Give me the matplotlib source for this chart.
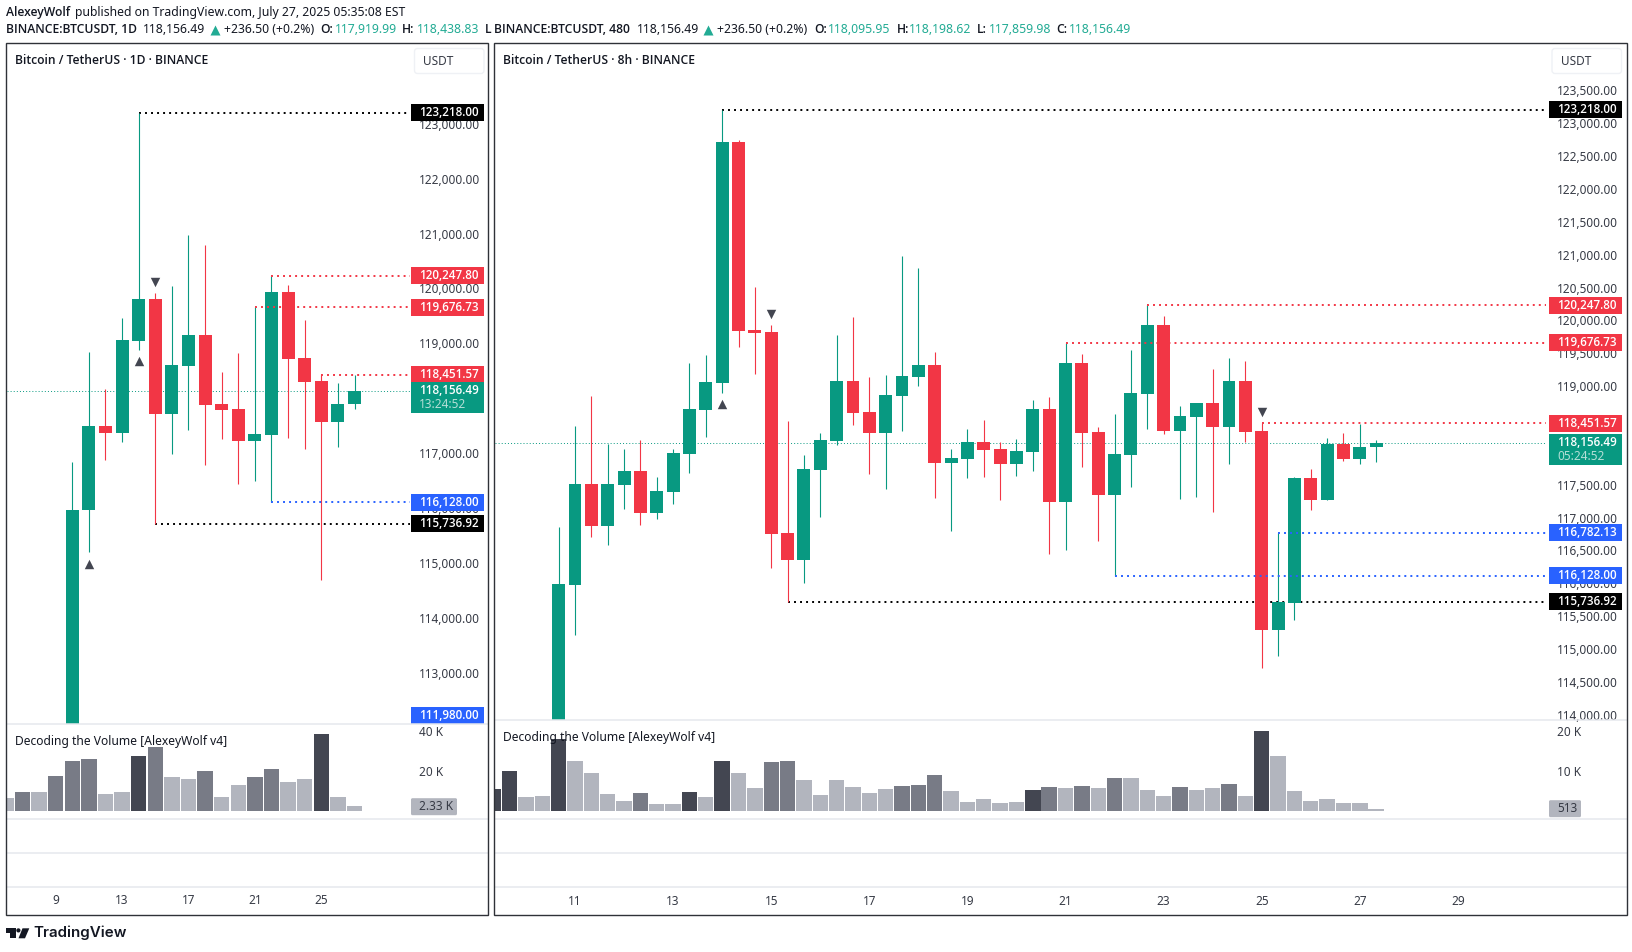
"""BTCUSDT 1D / 8h side-by-side TradingView snapshot, redrawn in matplotlib."""
import matplotlib; matplotlib.use("Agg"); import matplotlib.pyplot as plt
from matplotlib.patches import Rectangle, FancyBboxPatch, Polygon, Circle
from matplotlib.transforms import ScaledTranslation

plt.rcParams["font.family"] = ["Noto Sans", "DejaVu Sans"]
W, H = 1633, 952

GREEN, RED, BLUE, BLACK = "#089981", "#F23645", "#2962FF", "#000000"
INK, TICK, SEP = "#131722", "#363a45", "#e6e8ee"
VOL_COL = {"d": "#434651", "m": "#787B86", "l": "#B2B5BE"}
SEMI = dict(family="Open Sans", weight=600)   # Noto Sans here is one variable file, no real bold

# ---------------- 1D candles ----------------
d1_days  = list(range(10, 28))
d1_open  = [111232, 115986, 117515, 117393, 119068, 119826, 117733, 118607, 119171, 117915, 117824, 117242, 117351, 119954, 118752, 118334, 117588, 117919.99]
d1_high  = [116860, 118862, 118188, 119474, 123218, 119930, 120063, 120991, 120809, 118498, 118843, 119676.73, 120247.80, 120081, 119444, 118451.57, 118297, 118438.83]
d1_low   = [110800, 115227, 116896, 117230, 118898, 115736.92, 117005, 117442, 116805, 117284, 116459, 116514, 116128, 117296, 117096, 114718, 117133, 117824]
d1_close = [115986, 117515, 117393, 119080, 119826, 117733, 118625, 119171, 117897, 117806, 117242, 117369, 119954, 118734, 118316, 117588, 117915, 118156.49]

# 1D volume (K)
d1_vol_days = list(range(6, 28))
d1_vol      = [6.3, 9.3, 9.3, 17.3, 24.8, 25.8, 8.3, 9.3, 27.3, 31.8, 16.8, 15.8, 19.8, 6.8, 12.8, 16.8, 20.8, 14.3, 15.8, 38.3, 6.8, 2.33]
d1_vol_tone = list("lmlmmmlldmllmllmmlldll")

# ---------------- 8h candles (bar 0 = 11 Jul 00:00) ----------------
h8_idx   = list(range(-1, 50))
h8_open  = [113600, 115990, 117527, 116888, 117512, 117725, 117086, 117405, 117984, 118653, 119064, 122731, 119870, 119840, 116782, 116371, 117740, 118181,
            119094, 118623, 118303, 118866, 119155, 119338, 117847, 117907, 118166, 118060, 117831, 118014, 118668, 117253, 119368, 118318, 117360, 117968,
            118897, 119947, 118334, 118547, 118760, 118395, 119094, 118334, 115306, 115716, 117618, 117284, 118136, 117907, 118095.95]
h8_high  = [116873, 118410, 118866, 118136, 118060, 118197, 117634, 118060, 119368, 119490, 123218, 122762, 120525, 119947, 118486, 117968, 118303, 119794,
            120068, 119155, 119186, 120996, 120814, 119536, 118060, 118364, 118501, 118166, 118212, 118805, 118851, 119676.73, 119505, 118394, 118592, 119566,
            120247.80, 120083, 118714, 118760, 119277, 119444, 119399, 118451.57, 116782.13, 117634, 117755, 118227, 118303, 118440, 118198.62]
h8_low   = [113400, 115230, 116721, 116599, 117147, 116903, 116995, 117223, 117695, 118242, 118912, 119612, 119201, 116249, 115736.92, 116021, 117025, 118121,
            118425, 117679, 117451, 118334, 119018, 117314, 116812, 117618, 117634, 117284, 117649, 117725, 116462, 116523, 117786, 116660, 116128, 117482,
            118364, 118288, 117299, 117329, 117101, 117832, 118166, 114727, 114910, 115458, 117132, 117284, 117877, 117832, 117859.98]
h8_close = [116006, 117527, 116888, 117527, 117725, 117086, 117421, 117999, 118668, 119079, 122731, 119855, 119825, 116766, 116371, 117755, 118197, 119094,
            118607, 118303, 118881, 119170, 119338, 117847, 117923, 118166, 118045, 117831, 118029, 118668, 117253, 119368, 118303, 117360, 117984, 118912,
            119947, 118334, 118562, 118760, 118395, 119094, 118318, 115306, 115732, 117618, 117284, 118136, 117907, 118090, 118156.49]

# 8h volume (K)
h8_vol_idx  = list(range(-5, 50))
h8_vol      = [5.5, 10, 3.5, 3.75, 18, 12.5, 9.5, 4.25, 2.5, 4.5, 1.75, 1.75, 4.75, 3.5, 12.5, 9.5, 5.75, 12.25, 12.5, 7.75, 4, 7.75, 6, 4.5, 5.5, 6.25, 6.5, 9, 5,
               2.25, 3, 2, 2.25, 5.25, 6, 5.75, 6.25, 5.75, 8.25, 8.25, 5.25, 3.75, 6, 5.25, 5.75, 6.75, 3.75, 20, 13.75, 5, 2.5, 3, 2, 2, 0.513]
h8_vol_tone = list("ddlld" "llllm" "lldld" "llmml" "lllll" "mmmll" "llldm" "lmlml" "llmll" "mldll" "lllll")

# ---------------- price axis / levels ----------------
# 118,000 sits fully behind the last-price tag on both scales, so it is left out
d1_ticks = [113000, 114000, 115000, 116000, 117000, 119000, 120000, 121000, 122000, 123000]
h8_ticks = [114000, 114500, 115000, 115500, 116000, 116500, 117000, 117500, 118500, 119000, 119500, 120000, 120500, 121000, 121500, 122000, 122500, 123000, 123500]
d1_levels = [(123218.00, BLACK, 14), (120247.80, RED, 22), (119676.73, RED, 21), (118451.57, RED, 25), (116128.00, BLUE, 22), (115736.92, BLACK, 15)]
h8_levels = [(123218.00, BLACK, 9), (120247.80, RED, 35), (119676.73, RED, 30), (118451.57, RED, 42), (116782.13, BLUE, 43), (116128.00, BLUE, 33), (115736.92, BLACK, 13)]
last_price = 118156.49
d1_tri = [(11, 115004, "^"), (14, 118694, "^"), (15, 120138, "v")]
h8_tri = [(9, 118750, "^"), (12, 120114, "v"), (42, 118628, "v")]
d1_date_pos, d1_date_lab = [9, 13, 17, 21, 25], ["9", "13", "17", "21", "25"]
h8_date_pos, h8_date_lab = [0, 6, 12, 18, 24, 30, 36, 42, 48, 54], ["11", "13", "15", "17", "19", "21", "23", "25", "27", "29"]


def add_ax(x0, y0, x1, y1):
    ax = fig.add_axes([x0/W, 1-y1/H, (x1-x0)/W, (y1-y0)/H])
    ax.patch.set_alpha(0)
    return ax

def candles(ax, x, o, h, l, c, width):
    for xi, oi, hi, li, ci in zip(x, o, h, l, c):
        col = GREEN if ci >= oi else RED
        ax.vlines(xi, li, hi, color=col, lw=0.8, zorder=3)
        ax.bar(xi, abs(ci-oi), bottom=min(oi, ci), width=width, color=col, lw=0, zorder=3)

def tag(ax, price, text, color, sub=None):
    """price label on the scale; x in axes fraction from the panel's label box"""
    ymin, ymax = ax.get_ylim()
    px = (ymax-ymin)/ax.bbox.height
    hgt = 17*px
    yc = max(price, ymin+hgt/2)
    extra = 14*px if sub else 0
    tr = ax.get_yaxis_transform()
    ax.add_patch(FancyBboxPatch((ax.tag_x0, yc-hgt/2-extra), ax.tag_w, hgt+extra, boxstyle="square,pad=0", fc=color, ec="none", transform=tr, zorder=6, clip_on=False))
    ax.text(ax.tag_xt, yc, text, color="white", fontsize=8.4, ha="left", va="center", transform=tr, zorder=7, clip_on=False, **SEMI)
    if sub:
        ax.text(ax.tag_xt, yc-14*px, sub, color="#b5dfd7", fontsize=8.5, ha="left", va="center", transform=tr, zorder=7, clip_on=False)

def price_pane(ax, x, o, h, l, c, width, xlim, ylim, ticks, levels, tri, line_end, box, text_x, pad, sub):
    x0, x1 = ax.get_position().x0*W, ax.get_position().x1*W
    frac = lambda p: (p-x0)/(x1-x0)
    ax.set_xlim(*xlim); ax.set_ylim(*ylim)
    ax.tag_x0, ax.tag_w, ax.tag_xt = frac(box[0]), frac(box[1])-frac(box[0]), frac(text_x)
    candles(ax, x, o, h, l, c, width)
    # black levels run under the candles, coloured ones over them
    xend = xlim[0]+(xlim[1]-xlim[0])*frac(line_end)
    for p, col, start in levels:
        ax.hlines(p, start, xend, color=col, lw=1.4, linestyles=(0, (1, 2.1)), zorder=2 if col == BLACK else 4)
    ax.hlines(last_price, xlim[0], xend, color=GREEN, lw=0.7, linestyles=(0, (1, 2.2)), zorder=2)
    ax.scatter([t[0] for t in tri if t[2] == "^"], [t[1] for t in tri if t[2] == "^"], marker="^", s=46, color="#434651", lw=0, zorder=5)
    ax.scatter([t[0] for t in tri if t[2] == "v"], [t[1] for t in tri if t[2] == "v"], marker="v", s=46, color="#434651", lw=0, zorder=5)
    ax.set_xticks([])
    ax.yaxis.tick_right()
    ax.set_yticks(ticks, [f"{t:,.2f}" for t in ticks])
    ax.tick_params(axis="y", length=0, pad=-pad, labelsize=8.5, labelcolor=TICK)
    nudge = ScaledTranslation(0, 1/100, fig.dpi_scale_trans)   # 1 px up
    for t in ax.get_yticklabels():
        t.set_ha("left"); t.set_transform(t.get_transform() + nudge)
    for s in ax.spines.values(): s.set_visible(False)
    for p, col, _ in levels:
        tag(ax, p, f"{p:,.2f}", col)
    tag(ax, last_price, f"{last_price:,.2f}", GREEN, sub)

def vol_pane(ax, x, v, tone, width, xlim, ylim, ticks, labels, pad):
    ax.set_xlim(*xlim); ax.set_ylim(*ylim)
    ax.bar(x, v, width=width, color=[VOL_COL[t] for t in tone], lw=0, zorder=3)
    ax.set_xticks([])
    ax.yaxis.tick_right()
    ax.set_yticks(ticks, labels)
    ax.tick_params(axis="y", length=0, pad=-pad, labelsize=8.5, labelcolor=TICK)
    for t in ax.get_yticklabels(): t.set_ha("left")
    for k in ("left", "right"): ax.spines[k].set_visible(False)
    for k in ("top", "bottom"): ax.spines[k].set_color(SEP); ax.spines[k].set_linewidth(1.1)

def time_pane(ax, xlim, pos, labs):
    ax.set_xlim(*xlim); ax.set_ylim(0, 2)
    ax.axhline(1, color=SEP, lw=1.1)
    ax.set_yticks([])
    ax.set_xticks(pos, labs)
    ax.tick_params(axis="x", length=0, pad=5.2, labelsize=8.5, labelcolor=TICK)
    for k in ("left", "right", "top"): ax.spines[k].set_visible(False)
    ax.spines["bottom"].set_color(SEP); ax.spines["bottom"].set_linewidth(1.1)


fig = plt.figure(figsize=(W/100, H/100), dpi=100, facecolor="white")

# ================= left panel: 1D =================
xlim_l = (6.07, 35.04)
ax = add_ax(7, 44, 488, 724)
price_pane(ax, d1_days, d1_open, d1_high, d1_low, d1_close, 0.78, xlim_l, (112091, 124468), d1_ticks, d1_levels, d1_tri, 410, (411, 484), 419, 49.5, "13:24:52")
tag(ax, 111980.00, "111,980.00", BLUE)
av = add_ax(7, 724, 488, 819)
vol_pane(av, d1_vol_days, d1_vol, d1_vol_tone, 0.93, xlim_l, (-4.15, 43.35), [20, 40], ["20 K", "40 K"], 49.5)
at = add_ax(7, 819, 488, 887)
time_pane(at, xlim_l, d1_date_pos, d1_date_lab)

# ================= right panel: 8h =================
xlim_r = (-4.893, 64.34)
bx = add_ax(495, 44, 1627, 720.3)
price_pane(bx, h8_idx, h8_open, h8_high, h8_low, h8_close, 0.79, xlim_r, (113931, 124222), h8_ticks, h8_levels, h8_tri, 1546, (1549, 1622), 1557, 50.2, "05:24:52")
bv = add_ax(495, 720.3, 1627, 819.3)
vol_pane(bv, h8_vol_idx, h8_vol, h8_vol_tone, 0.94, xlim_r, (-2.08, 22.7), [10, 20], ["10 K", "20 K"], 50.2)
bt = add_ax(495, 819.3, 1627, 887.3)
time_pane(bt, xlim_r, h8_date_pos, h8_date_lab)

# ================= overlay in pixel coords: frames, headers, logo =================
ov = fig.add_axes([0, 0, 1, 1], zorder=20)
ov.set_xlim(0, W); ov.set_ylim(H, 0); ov.axis("off"); ov.patch.set_alpha(0)

for x0, x1 in ((6.5, 488.5), (494.5, 1626.8)):
    ov.add_patch(Rectangle((x0, 43.3), x1-x0, 871.7, fc="none", ec="#2f3238", lw=1.0))

TEAL = "#22ab94"
hdr_semi = [(6.3, 29.3, "BINANCE:BTCUSDT, 1D"), (320, 29.3, "O:"), (402.3, 29.3, "H:"), (485, 29.3, "L"),
            (494.3, 29.3, "BINANCE:BTCUSDT, 480"), (814, 29.3, "O:"), (896.7, 29.3, "H:"), (977.3, 29.3, "L:"), (1056, 29.3, "C:"),
            (6.3, 12.7, "AlexeyWolf")]
hdr_reg = [(143.3, 29.3, "118,156.49", INK), (224, 29.3, "+236.50 (+0.2%)", INK), (335, 29.3, "117,919.99", TEAL), (416.7, 29.3, "118,438.83", TEAL),
           (637.3, 29.3, "118,156.49", INK), (717.3, 29.3, "+236.50 (+0.2%)", INK), (828.3, 29.3, "118,095.95", TEAL), (909.3, 29.3, "118,198.62", TEAL),
           (988.7, 29.3, "117,859.98", TEAL), (1068.7, 29.3, "118,156.49", TEAL),
           (75, 12.7, "published on TradingView.com, July 27, 2025 05:35:08 EST", INK)]
for x, y, s in hdr_semi:
    ov.text(x, y, s, color=INK, fontsize=8.7, ha="left", va="center", **SEMI)
for x, y, s, col in hdr_reg:
    ov.text(x, y, s, color=col, fontsize=8.8, ha="left", va="center")
ov.scatter([215.5, 708.5], [29.5, 29.5], marker="^", s=52, color=TEAL, lw=0)

ov.text(15, 60.5, "Bitcoin / TetherUS \u00b7 1D \u00b7 BINANCE", color=INK, fontsize=8.7, ha="left", va="center", **SEMI)
ov.text(503.5, 60.5, "Bitcoin / TetherUS \u00b7 8h \u00b7 BINANCE", color=INK, fontsize=8.7, ha="left", va="center", **SEMI)
ov.text(15, 741.7, "Decoding the Volume [AlexeyWolf v4]", color=INK, fontsize=8.7, ha="left", va="center")
ov.text(503.5, 737.3, "Decoding the Volume [AlexeyWolf v4]", color=INK, fontsize=8.7, ha="left", va="center")

for x0, xt in ((414.5, 423), (1552, 1561)):
    ov.add_patch(FancyBboxPatch((x0, 48.5), 69.5, 25, boxstyle="round,pad=0,rounding_size=3", fc="white", ec="#eff1f5", lw=1))
    ov.text(xt, 61.5, "USDT", color=TICK, fontsize=8.5, ha="left", va="center")

# volume value tags
for x0, x1, xt, yc, s in ((411, 457, 419, 806.7, "2.33 K"), (1549, 1581, 1557, 808.7, "513")):
    ov.add_patch(FancyBboxPatch((x0, yc-8.5), x1-x0, 17, boxstyle="round,pad=0,rounding_size=1.5", fc="#B2B5BE", ec="none"))
    ov.text(xt, yc, s, color=TICK, fontsize=8.5, ha="left", va="center")

# logo
ov.add_patch(Polygon([(6, 928.3), (15.7, 928.3), (15.7, 938.3), (10, 938.3), (10, 932.5), (6, 932.5)], fc=INK, ec="none"))
ov.add_patch(Circle((18.4, 930.4), 2.1, fc=INK, ec="none"))
ov.add_patch(Polygon([(22.5, 928.3), (29.3, 928.3), (25, 938.3), (18.5, 938.3)], fc=INK, ec="none"))
ov.text(33.5, 933.2, "TradingView", color=INK, fontsize=10.9, weight=600, family="Inter", ha="left", va="center")

fig.savefig("out.png", dpi=100, facecolor="white")
print("saved out.png")
